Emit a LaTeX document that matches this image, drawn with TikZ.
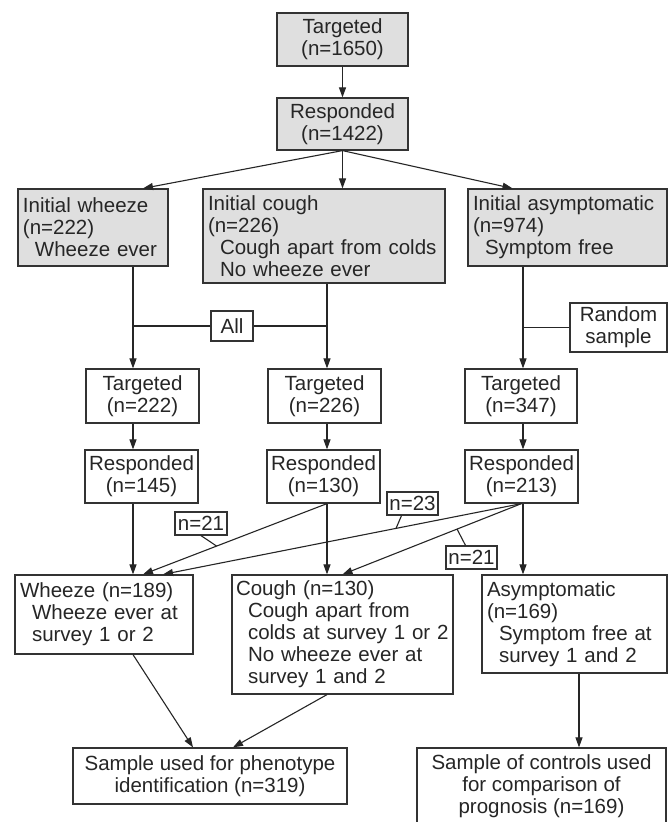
\documentclass[tikz,border=0pt]{standalone}
\usepackage{fontspec}
\setmainfont{Liberation Sans}
\usetikzlibrary{arrows.meta}

\begin{document}
\begin{tikzpicture}[x=1pt,y=-1pt,
  every node/.style={font=\fontsize{20.5}{22}\selectfont,text=black!85,draw=black!80,line width=1.2pt,inner sep=0pt,align=center},
  greybox/.style={fill=gray!25},
  leftbox/.style={align=left,inner xsep=5pt},
  conn/.style={line width=1.1pt,draw=black!85},
  arr/.style={conn,-{Triangle[length=10pt,width=7pt]}}]
\clip (0,0) rectangle (668,822);
\fill[white] (0,0) rectangle (668,822);
\coordinate (colw) at (133,0);
\coordinate (colc) at (327,0);
\coordinate (cola) at (523,0);
\coordinate (colp) at (579,0);
\node [greybox,minimum width=131pt,minimum height=53pt] (t0) at (342.5,39.5) {Targeted\\(n=1650)};
\node [greybox,minimum width=131pt,minimum height=52pt] (r0) at (342.5,124) {Responded\\(n=1422)};
\node [greybox,leftbox,text width=140pt,minimum height=77pt] (iw) at (93,227.5) {Initial wheeze\\(n=222)\\\hspace*{12pt}Wheeze ever};
\node [greybox,leftbox,text width=232pt,minimum height=94pt] (ic) at (324,236) {Initial cough\\(n=226)\\\hspace*{12pt}Cough apart from colds\\\hspace*{12pt}No wheeze ever};
\node [greybox,leftbox,text width=189pt,minimum height=77pt] (ia) at (567.5,227.5) {Initial asymptomatic\\(n=974)\\\hspace*{12pt}Symptom free};
\node [minimum width=42pt,minimum height=30pt] (all) at (232,326) {All};
\node [minimum width=97pt,minimum height=49pt] (rnd) at (618.5,327.5) {Random\\sample};
\node [minimum width=113pt,minimum height=54pt] (t1) at (142.5,396) {Targeted\\(n=222)};
\node [minimum width=113pt,minimum height=54pt] (t2) at (324.5,396) {Targeted\\(n=226)};
\node [minimum width=112pt,minimum height=54pt] (t3) at (521,396) {Targeted\\(n=347)};
\node [minimum width=113pt,minimum height=53pt] (r1) at (141.5,476.5) {Responded\\(n=145)};
\node [minimum width=113pt,minimum height=53pt] (r2) at (323.5,476.5) {Responded\\(n=130)};
\node [minimum width=113pt,minimum height=53pt] (r3) at (521.5,476.5) {Responded\\(n=213)};
\node [minimum width=52pt,minimum height=23pt] (n21a) at (201,523.5) {n=21};
\node [minimum width=51pt,minimum height=23pt] (n23) at (412.5,503.5) {n=23};
\node [minimum width=51pt,minimum height=23pt] (n21b) at (471.5,557.5) {n=21};
\node [leftbox,text width=168pt,minimum height=79pt] (fw) at (104,614.5) {Wheeze (n=189)\\\hspace*{12pt}Wheeze ever at\\\hspace*{12pt}survey 1 or 2};
\node [leftbox,inner xsep=2pt,text width=217pt,minimum height=119pt] (fc) at (342.5,634.5) {\hspace*{2pt}Cough (n=130)\\\hspace*{14pt}Cough apart from\\\hspace*{14pt}colds at survey 1 or 2\\\hspace*{14pt}No wheeze ever at\\\hspace*{14pt}survey 1 and 2};
\node [leftbox,text width=175pt,minimum height=98pt] (fa) at (574.5,624) {Asymptomatic\\(n=169)\\\hspace*{12pt}Symptom free at\\\hspace*{12pt}survey 1 and 2};
\node [minimum width=274pt,minimum height=56pt] (sp) at (210,776) {Sample used for phenotype\\identification (n=319)};
\node [minimum width=249pt,minimum height=76pt] (sc) at (541.5,786) {Sample of controls used\\for comparison of\\prognosis (n=169)};
\draw[arr] (t0) -- (r0);
\draw[arr] (r0.south) -- ([xshift=50pt]iw.north);
\draw[arr] (r0.south) -- (r0.south |- ic.north);
\draw[arr] (r0.south) -- ([xshift=-55pt]ia.north);
\draw[arr] (iw.south -| colw) -- (t1.north -| colw);
\draw[arr] (ic.south -| colc) -- (t2.north -| colc);
\draw[arr] (ia.south -| cola) -- (t3.north -| cola);
\draw[conn] (all.west) -- (all.west -| colw);
\draw[conn] (all.east) -- (all.east -| colc);
\draw[conn] (rnd.west) -- (rnd.west -| cola);
\draw[arr] (t1.south -| colw) -- (r1.north -| colw);
\draw[arr] (t2.south -| colc) -- (r2.north -| colc);
\draw[arr] (t3.south -| cola) -- (r3.north -| cola);
\draw[arr] (r1.south -| colw) -- (fw.north -| colw);
\draw[arr] (r2.south -| colc) -- coordinate[pos=0.6] (ka) ([xshift=39pt]fw.north);
\draw[arr] (r2.south -| colc) -- (fc.north -| colc);
\draw[arr] (r3.south) -- coordinate[pos=0.35] (kb) ([xshift=59pt]fw.north);
\draw[arr] (r3.south) -- coordinate[pos=0.36] (kc) (fc.north);
\draw[arr] (r3.south -| cola) -- (fa.north -| cola);
\draw[conn] (n21a.south) -- (ka);
\draw[conn] ([xshift=-11pt]n23.south) -- (kb);
\draw[conn] ([xshift=-6pt]n21b.north) -- (kc);
\draw[arr] (fw.south -| colw) -- ([xshift=-17pt]sp.north);
\draw[arr] (fc.south -| colc) -- ([xshift=23pt]sp.north);
\draw[arr] (fa.south -| colp) -- (sc.north -| colp);
\end{tikzpicture}
\end{document}
